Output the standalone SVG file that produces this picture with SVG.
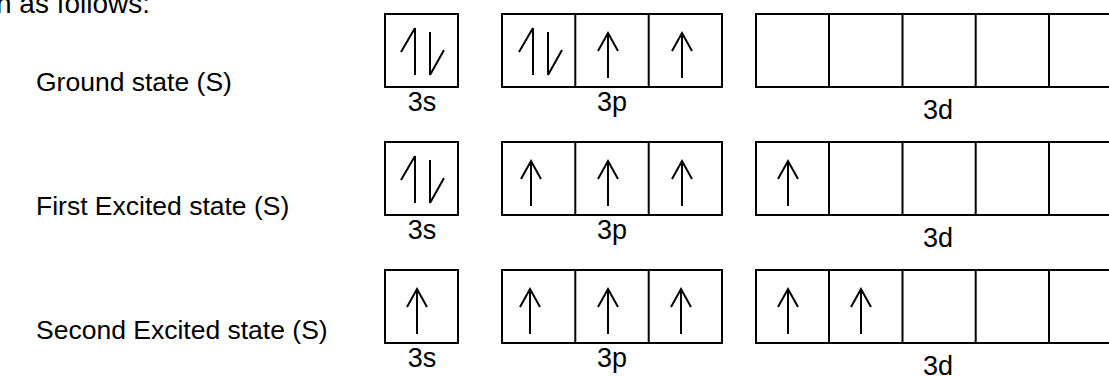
<svg xmlns="http://www.w3.org/2000/svg" xmlns:xlink="http://www.w3.org/1999/xlink" width="1109" height="376" viewBox="0 0 1109 376">
<style>
text{font-family:"Liberation Sans",Arial,sans-serif;fill:#000}
.lab{font-size:26.5px}
.sub{font-size:27px;text-anchor:middle}
.box{fill:none;stroke:#000;stroke-width:2}
.e{fill:none;stroke:#000;stroke-width:2;stroke-linecap:butt;stroke-linejoin:miter}
</style>
<defs>
<path id="up" class="e" d="M0,0 V-45 M-10,-27 L0,-45 L10,-27"/>
<path id="pair" class="e" d="M-7,-47 V0 M-7,-47 L-21,-23 M8,-43 V0 M8,0 L22,-25"/>
</defs>
<rect width="1109" height="376" fill="#fff"/>
<text x="-4" y="13" style="font-size:28px">n as follows:</text>

<g id="row1">
<text class="lab" x="36" y="91">Ground state (S)</text>
<g id="r1-3s"><rect class="box" x="385" y="14" width="73" height="73"/><use xlink:href="#pair" x="422" y="75"/><text class="sub" x="422" y="111">3s</text></g>
<g id="r1-3p"><rect class="box" x="502" y="14" width="220" height="73"/><path class="box" d="M575.3,14V87M648.7,14V87"/><use xlink:href="#pair" x="540" y="75"/><use xlink:href="#up" x="608" y="78"/><use xlink:href="#up" x="682" y="78"/><text class="sub" x="612" y="111">3p</text></g>
<g id="r1-3d"><rect class="box" x="756" y="14" width="366" height="73"/><path class="box" d="M829,14V87M902.5,14V87M975.7,14V87M1049,14V87"/><text class="sub" x="938" y="119">3d</text></g>
</g>

<g id="row2">
<text class="lab" x="36" y="215">First Excited state (S)</text>
<g id="r2-3s"><rect class="box" x="385" y="142" width="73" height="73"/><use xlink:href="#pair" x="422" y="203"/><text class="sub" x="422" y="239">3s</text></g>
<g id="r2-3p"><rect class="box" x="502" y="142" width="220" height="73"/><path class="box" d="M575.3,142V215M648.7,142V215"/><use xlink:href="#up" x="531" y="206"/><use xlink:href="#up" x="608" y="206"/><use xlink:href="#up" x="682" y="206"/><text class="sub" x="612" y="239">3p</text></g>
<g id="r2-3d"><rect class="box" x="756" y="142" width="366" height="73"/><path class="box" d="M829,142V215M902.5,142V215M975.7,142V215M1049,142V215"/><use xlink:href="#up" x="788" y="206"/><text class="sub" x="938" y="247">3d</text></g>
</g>

<g id="row3">
<text class="lab" x="36" y="339">Second Excited state (S)</text>
<g id="r3-3s"><rect class="box" x="385" y="270" width="73" height="73"/><use xlink:href="#up" x="417" y="334"/><text class="sub" x="422" y="367">3s</text></g>
<g id="r3-3p"><rect class="box" x="502" y="270" width="220" height="73"/><path class="box" d="M575.3,270V343M648.7,270V343"/><use xlink:href="#up" x="530" y="334"/><use xlink:href="#up" x="608" y="334"/><use xlink:href="#up" x="681" y="334"/><text class="sub" x="612" y="367">3p</text></g>
<g id="r3-3d"><rect class="box" x="756" y="270" width="366" height="73"/><path class="box" d="M829,270V343M902.5,270V343M975.7,270V343M1049,270V343"/><use xlink:href="#up" x="788" y="334"/><use xlink:href="#up" x="861" y="334"/><text class="sub" x="938" y="375">3d</text></g>
</g>
<g id="connectors"/>
</svg>
